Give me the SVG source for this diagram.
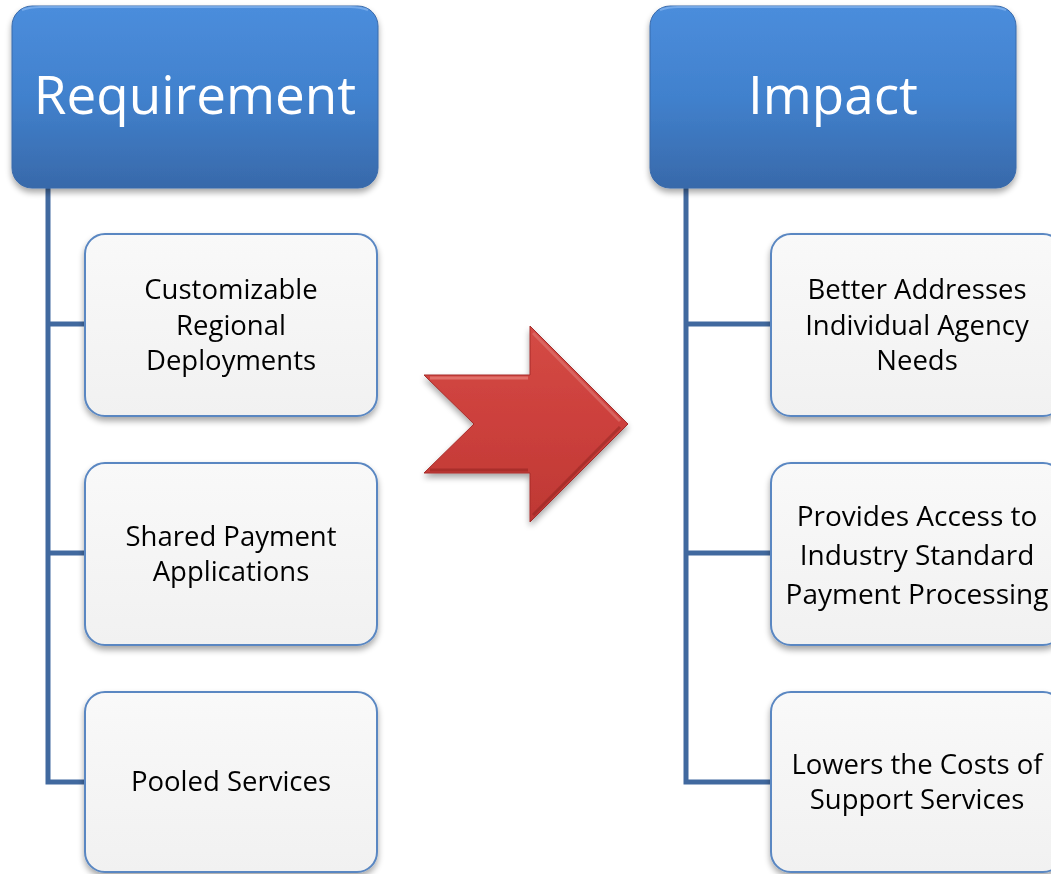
<svg xmlns="http://www.w3.org/2000/svg" width="1051" height="874" viewBox="0 0 1051 874">
<defs>
<linearGradient id="hdr" x1="0" y1="0" x2="0" y2="1">
<stop offset="0" stop-color="#4B8DDC"/>
<stop offset="0.5" stop-color="#4181CD"/>
<stop offset="1" stop-color="#3869AA"/>
</linearGradient>
<linearGradient id="box" x1="0" y1="0" x2="0" y2="1">
<stop offset="0" stop-color="#F9F9F9"/>
<stop offset="1" stop-color="#F1F1F1"/>
</linearGradient>
<linearGradient id="red" x1="0" y1="0" x2="0" y2="1">
<stop offset="0" stop-color="#D44A45"/>
<stop offset="0.5" stop-color="#CC403C"/>
<stop offset="1" stop-color="#BE3834"/>
</linearGradient>
<filter id="sh" x="-10%" y="-10%" width="125%" height="125%">
<feGaussianBlur in="SourceAlpha" stdDeviation="3"/>
<feOffset dx="0" dy="4" result="b"/>
<feComponentTransfer><feFuncA type="linear" slope="0.35"/></feComponentTransfer>
<feMerge><feMergeNode/><feMergeNode in="SourceGraphic"/></feMerge>
</filter>
</defs>
<style>
.hdr{fill:url(#hdr);stroke:#3A6AAA;stroke-width:1}
.hl{fill:none;stroke:#7FB2EE;stroke-width:2;opacity:0.8}
.box{fill:url(#box);stroke:#5A87C2;stroke-width:2}
.conn{fill:none;stroke:#41699F;stroke-width:5}
.ht{font-family:"Open Sans","Noto Sans",sans-serif;font-size:53px;fill:#FFFFFF;text-anchor:middle}
.t{font-family:"Open Sans","Noto Sans",sans-serif;font-size:27.5px;fill:#050505;text-anchor:middle}
.t2{font-family:"Open Sans","Noto Sans",sans-serif;font-size:28px;fill:#050505;text-anchor:middle}
</style>
<g id="connectors">
<path class="conn" d="M48,186 V782 H86 M48,324 H86 M48,553 H86"/>
<path class="conn" d="M686,186 V782 H772 M686,324 H772 M686,553 H772"/>
</g>
<g id="requirement" filter="url(#sh)">
<rect class="hdr" x="12" y="6" width="366" height="182" rx="20"/>
<path class="hl" d="M22,10 Q30,7 40,7 H350 Q360,7 368,10"/>
<text class="ht" x="195" y="114">Requirement</text>
</g>
<g id="impact" filter="url(#sh)">
<rect class="hdr" x="650" y="6" width="366" height="182" rx="20"/>
<path class="hl" d="M660,10 Q668,7 678,7 H988 Q998,7 1006,10"/>
<text class="ht" x="833" y="114">Impact</text>
</g>
<g id="req1" filter="url(#sh)">
<rect class="box" x="85" y="234" width="292" height="182" rx="20"/>
<text class="t" x="231" y="299">Customizable</text>
<text class="t" x="231" y="335">Regional</text>
<text class="t" x="231" y="370">Deployments</text>
</g>
<g id="req2" filter="url(#sh)">
<rect class="box" x="85" y="463" width="292" height="182" rx="20"/>
<text class="t" x="231" y="546">Shared Payment</text>
<text class="t" x="231" y="581">Applications</text>
</g>
<g id="req3" filter="url(#sh)">
<rect class="box" x="85" y="692" width="292" height="180" rx="20"/>
<text class="t" x="231" y="791">Pooled Services</text>
</g>
<g id="imp1" filter="url(#sh)">
<rect class="box" x="771" y="234" width="292" height="182" rx="20"/>
<text class="t" x="917" y="299">Better Addresses</text>
<text class="t" x="917" y="335">Individual Agency</text>
<text class="t" x="917" y="370">Needs</text>
</g>
<g id="imp2" filter="url(#sh)">
<rect class="box" x="771" y="463" width="292" height="182" rx="20"/>
<text class="t2" x="917" y="526">Provides Access to</text>
<text class="t2" x="917" y="565">Industry Standard</text>
<text class="t2" x="917" y="604">Payment Processing</text>
</g>
<g id="imp3" filter="url(#sh)">
<rect class="box" x="771" y="692" width="292" height="180" rx="20"/>
<text class="t" x="917" y="774">Lowers the Costs of</text>
<text class="t" x="917" y="809">Support Services</text>
</g>
<g id="arrow" filter="url(#sh)">
<polygon points="424,375 530,375 530,326 628,424 530,522 530,473 424,473 474,424" fill="url(#red)" stroke="#A52C29" stroke-width="1"/>
<polyline points="430,378 528,378" fill="none" stroke="#E8837E" stroke-width="3" opacity="0.7"/>
<polyline points="533,333 620,421" fill="none" stroke="#E07A75" stroke-width="3" opacity="0.6"/>
<polyline points="533,515 620,427" fill="none" stroke="#8E2220" stroke-width="3" opacity="0.5"/>
<polyline points="430,470 528,470" fill="none" stroke="#8E2220" stroke-width="3" opacity="0.5"/>
</g>
</svg>
